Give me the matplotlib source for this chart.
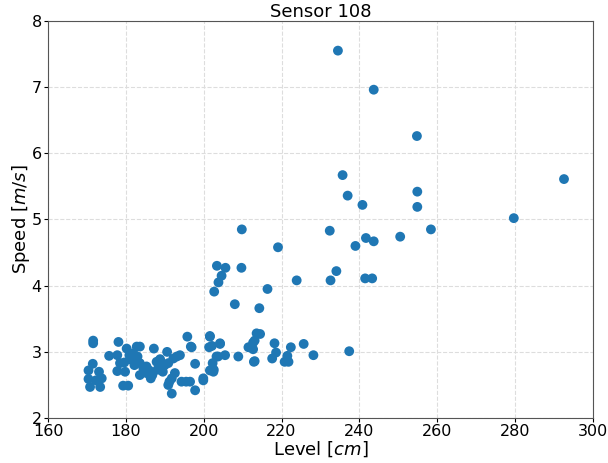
import matplotlib
matplotlib.use("Agg")
import matplotlib.pyplot as plt

level = [
    234.5, 243.7, 254.8, 235.7, 237.0, 240.8, 254.9, 254.9, 209.8, 232.4,
    241.7, 243.7, 250.5, 239.0, 219.1, 205.6, 209.7, 204.6, 234.1, 232.6,
    223.9, 241.5, 243.3, 216.4, 292.6, 279.7, 258.4, 203.4, 203.8, 202.7,
    208.0, 214.3, 214.5, 213.1, 212.1, 212.7, 218.2, 218.6, 217.6, 222.4,
    221.5, 220.8, 221.8, 225.7, 228.2, 237.4, 213.1, 208.9, 205.5, 203.7,
    204.2, 201.6, 201.4, 202.1, 196.9, 195.8, 197.8, 202.3, 202.6, 201.6,
    199.9, 171.6, 171.6, 171.5, 170.4, 170.4, 170.8, 173.1, 173.8, 172.3,
    173.4, 175.7, 178.1, 177.8, 177.8, 178.5, 179.6, 179.3, 180.6, 180.2,
    180.9, 181.5, 181.9, 179.8, 182.8, 183.6, 183.0, 183.6, 183.6, 185.3,
    185.3, 186.4, 187.2, 187.9, 188.1, 188.8, 189.2, 190.6, 190.9, 190.9,
    191.8, 191.8, 192.6, 193.1, 193.9, 194.3, 196.7, 196.5, 197.8, 199.9,
    201.6, 202.5, 204.2, 203.3, 211.5, 212.7, 212.9, 213.6, 184.5, 186.8,
    189.5, 191.2, 192.2, 195.5, 182.2, 186.0, 190.0,
]
speed = [
    7.55, 6.96, 6.26, 5.67, 5.36, 5.22, 5.42, 5.19, 4.85, 4.83,
    4.72, 4.67, 4.74, 4.60, 4.58, 4.27, 4.27, 4.15, 4.22, 4.08,
    4.08, 4.11, 4.11, 3.95, 5.61, 5.02, 4.85, 4.30, 4.05, 3.91,
    3.72, 3.66, 3.27, 3.17, 3.07, 3.04, 3.13, 2.99, 2.90, 3.07,
    2.94, 2.85, 2.85, 3.12, 2.95, 3.01, 2.86, 2.93, 2.95, 2.93,
    3.12, 3.23, 3.07, 3.09, 3.07, 3.23, 2.82, 2.83, 2.73, 2.72,
    2.60, 3.17, 3.13, 2.82, 2.72, 2.59, 2.47, 2.70, 2.60, 2.57,
    2.47, 2.94, 3.15, 2.95, 2.71, 2.83, 2.84, 2.49, 2.49, 3.05,
    2.95, 2.88, 2.98, 2.70, 3.08, 3.08, 2.93, 2.83, 2.65, 2.78,
    2.68, 2.60, 3.05, 2.85, 2.73, 2.89, 2.78, 3.00, 2.83, 2.50,
    2.37, 2.60, 2.68, 2.93, 2.95, 2.55, 3.08, 2.55, 2.42, 2.57,
    3.24, 2.70, 3.13, 2.93, 3.07, 3.14, 2.85, 3.28, 2.75, 2.65,
    2.70, 2.55, 2.90, 2.55, 2.80, 2.72, 2.80,
]

fig = plt.figure(figsize=(6.08, 4.63), dpi=100)
ax = fig.add_axes([0.079, 0.097, 0.896, 0.858])
ax.scatter(level, speed, s=50, color="#1f77b4", edgecolors="none", zorder=3)
ax.set_xlim(160, 300)
ax.set_ylim(2, 8)
ax.set_xticks(range(160, 301, 20))
ax.set_yticks(range(2, 9))
ax.grid(True, linestyle="--", color="#dddddd", linewidth=0.8)
ax.set_axisbelow(True)
for sp in ax.spines.values():
    sp.set_color("#555555")
ax.tick_params(labelsize=11.5, length=3, pad=1.5)
ax.set_title("Sensor 108", fontsize=13, pad=2)
ax.set_xlabel("Level [$cm$]", fontsize=13, labelpad=0)
ax.set_ylabel("Speed [$m/s$]", fontsize=13, labelpad=0)
fig.savefig("out.png", dpi=100)
